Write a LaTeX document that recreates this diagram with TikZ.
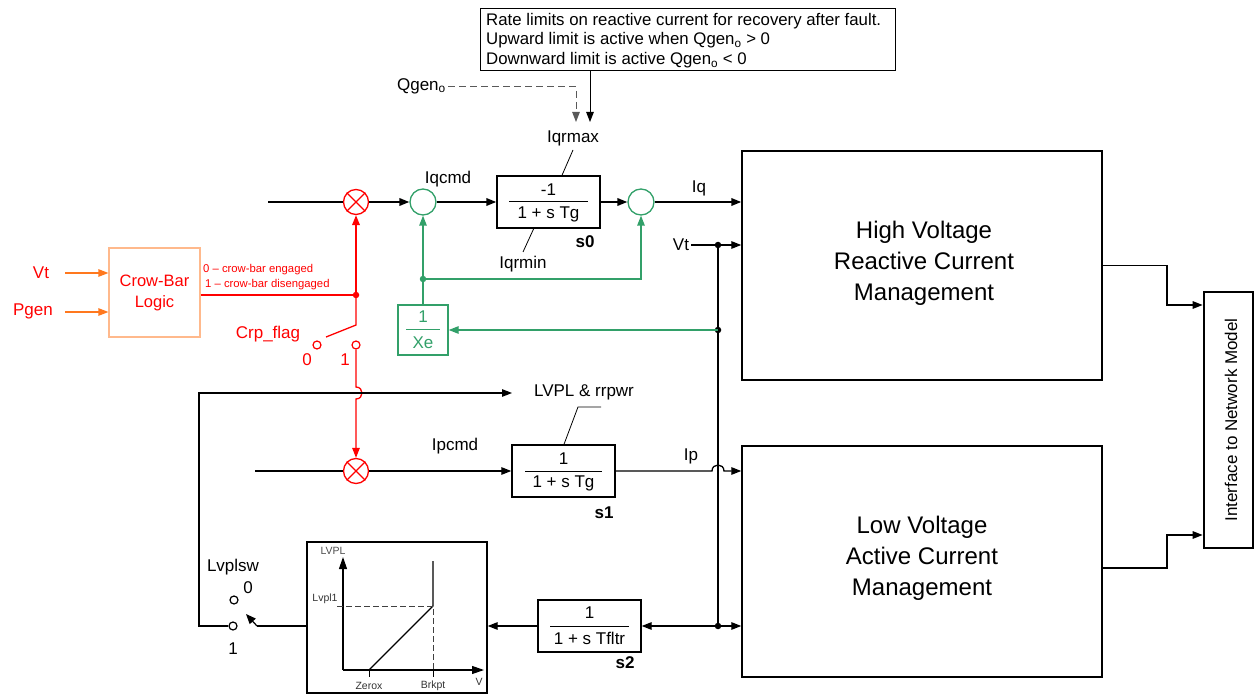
\documentclass[tikz,border=0pt]{standalone}
\usepackage{fontspec}
\setmainfont{Liberation Sans}
\usetikzlibrary{arrows.meta}
\definecolor{cbred}{RGB}{255,0,0}
\definecolor{cborange}{RGB}{255,120,30}
\definecolor{cbbox}{RGB}{255,185,140}
\definecolor{fgreen}{RGB}{50,160,105}
\begin{document}
\begin{tikzpicture}[x=1pt,y=-1pt,
  >={Triangle[length=10pt,width=7.5pt]},
  every node/.style={font=\fontsize{17}{19}\selectfont, inner sep=0pt},
  wire/.style={line width=1.3pt},
  bold wire/.style={line width=1.9pt},
  boxnode/.style={draw, line width=1.4pt},
  dot/.style={circle, fill, minimum size=6.5pt, inner sep=0pt},
  contact/.style={circle, draw, line width=1.2pt, minimum size=8pt, inner sep=0pt},
  small/.style={font=\fontsize{11.3}{13}\selectfont},
  tiny/.style={font=\fontsize{10.5}{12}\selectfont},
  big/.style={font=\fontsize{24}{31}\selectfont, align=center},
  sumg/.style={circle, draw=fgreen, line width=1.3pt, minimum size=26pt},
  mult/.style={circle, draw=cbred, line width=1.3pt, minimum size=25pt},
  bf/.style={font=\bfseries\fontsize{17}{19}\selectfont}
]
\useasboundingbox (0,0) rectangle (1254,695);

% ---------- note box ----------
\node[boxnode, line width=1pt, minimum width=415pt, minimum height=62pt] (note) at (687.5,40) {};
\node[anchor=west, align=left, font=\fontsize{16.8}{19.8}\selectfont] (notetext) at (486,40.5)
  {Rate limits on reactive current for recovery after fault.\\
   Upward limit is active when Qgen\textsubscript{o} > 0\\
   Downward limit is active Qgen\textsubscript{o} < 0};
\node[anchor=east] (qgen) at (446,86) {Qgen\textsubscript{o}};
\coordinate (nbot) at (590,71);
\coordinate (ntip) at (590,122);
\coordinate (qc) at (576,87);
\coordinate (qtip) at (576,122);
\draw[line width=1pt, ->] (nbot) -- (ntip);
\draw[line width=1pt, dash pattern=on 7pt off 4pt, black!65, ->] ([xshift=2pt]qgen.east |- qc) -- (qc) -- (qtip);
\node (iqrmax) at (573,138) {Iqrmax};

% ---------- crow-bar ----------
\node[draw=cbbox, line width=1.2pt, minimum width=91pt, minimum height=89pt, text=cbred,
      align=center, font=\fontsize{16.5}{21}\selectfont] (crow) at (154.5,292.5) {Crow-Bar\\Logic};
\node[text=cbred] (vt1) at (41,273) {Vt};
\node[text=cbred] (pgen) at (33,311) {Pgen};
\coordinate (vtin) at (65,273);
\coordinate (pgin) at (65,312);
\draw[cborange, line width=1.2pt, ->] (vtin) -- (crow.west |- vtin);
\draw[cborange, line width=1.2pt, ->] (pgin) -- (crow.west |- pgin);
\node[small, text=cbred, anchor=west] (eng) at (203,270) {0 – crow-bar engaged};
\node[small, text=cbred, anchor=west] (dis) at (205,285) {1 – crow-bar disengaged};

\coordinate (jn) at (356,295);
\node[mult] (m1) at (356,202) {};
\draw[cbred, line width=1.3pt] (m1.north east) -- (m1.south west) (m1.north west) -- (m1.south east);
\draw[cbred, bold wire] (crow.east |- jn) -- (jn);
\draw[cbred, bold wire, ->] (jn) -- (m1.south);
\node[dot, text=cbred, fill=cbred] (jndot) at (jn) {};
\coordinate (bladetop) at (356,325);
\coordinate (bladeend) at (326,337);
\draw[cbred, wire] (jn) -- (bladetop) -- (bladeend);
\node[contact, draw=cbred] (c0) at (317,345) {};
\node[contact, draw=cbred] (c1) at (356,345) {};
\node[text=cbred] (c0l) at (307,360) {0};
\node[text=cbred] (c1l) at (345,360) {1};
\node[text=cbred] (crp) at (268,334) {Crp\_flag};
\node[mult] (m2) at (356,471) {};
\draw[cbred, line width=1.3pt] (m2.north east) -- (m2.south west) (m2.north west) -- (m2.south east);
\draw[cbred, wire, ->] (c1.south) -- (356,387) .. controls (364,387) and (364,399) .. (356,399) -- (m2.north);

% ---------- reactive path ----------
\node[sumg] (g1) at (423,202) {};
\node[sumg] (g2) at (641,202) {};
\node[boxnode, minimum width=103pt, minimum height=52pt] (s0) at (548.5,202) {};
\node (s0n) at (548.5,190) {-1};
\draw[line width=1pt] (509,202) -- (588,202);
\node (s0d) at (548.5,214) {1 + s Tg};
\node[bf] (s0l) at (585,242) {s0};
\draw[line width=0.8pt] (573,150) -- (s0.north -| 562,0);
\node (iqrmin) at (523,264) {Iqrmin};
\draw[line width=0.8pt] (534,228) -- (523,252);
\coordinate (in1) at (268,202);
\draw[bold wire] (in1) -- (m1.west);
\draw[bold wire, ->] (m1.east) -- (g1.west);
\draw[bold wire, ->] (g1.east) -- (s0.west);
\draw[bold wire, ->] (s0.east) -- (g2.west);
\node (iqcmd) at (448,179) {Iqcmd};
\node (iq) at (699,188) {Iq};

% ---------- big boxes ----------
\node[boxnode, minimum width=360pt, minimum height=229pt] (hv) at (922,265.5) {};
\node[big] (hvt) at (924,263) {High Voltage\\Reactive Current\\Management};
\node[boxnode, minimum width=360pt, minimum height=231pt] (lv) at (922,561.5) {};
\node[big] (lvt) at (922,558) {Low Voltage\\Active Current\\Management};
\node[draw, line width=2.6pt, minimum width=49pt, minimum height=256pt] (iface) at (1228.5,420) {};
\node[rotate=90] (ifacet) at (1231,420) {Interface to Network Model};
\draw[bold wire, ->] (g2.east) -- (hv.west |- g2);
\draw[wire, ->] (hv.east) -- (1167,265.5) |- ([yshift=115pt]iface.west);
\draw[wire, ->] ([yshift=-6.5pt]lv.east) -- (1167,568) |- ([yshift=-115pt]iface.west);

% ---------- Vt distribution ----------
\node (vt2) at (681,245) {Vt};
\coordinate (j1) at (718,245);
\coordinate (j2) at (718,330);
\coordinate (j3) at (718,626);
\draw[wire, ->] ([xshift=2pt]vt2.east) -- (hv.west |- vt2);
\draw[wire] (j1) -- (j3);
\node[dot] (j1d) at (j1) {};
\node[dot] (j2d) at (j2) {};
\node[dot] (j3d) at (j3) {};

% ---------- Xe feedback ----------
\node[draw=fgreen, line width=1.3pt, minimum width=50pt, minimum height=50pt] (xe) at (423,330) {};
\node[text=fgreen] (xen) at (423,317) {1};
\draw[fgreen, line width=1pt] (406,330) -- (440,330);
\node[text=fgreen] (xed) at (423,343) {Xe};
\coordinate (gj) at (423,279);
\draw[fgreen, wire] (xe.north) -- (gj);
\draw[fgreen, wire, ->] (gj) -- (g1.south);
\draw[fgreen, wire, ->] (gj) -- (gj -| g2) -- (g2.south);
\node[dot, fill=fgreen] (gjd) at (gj) {};
\draw[fgreen, wire, ->] (j2) -- (xe.east |- j2);

% ---------- active path ----------
\node[boxnode, minimum width=103pt, minimum height=52pt] (s1) at (563.5,471) {};
\node (s1n) at (563.5,459) {1};
\draw[line width=1pt] (525,471) -- (602,471);
\node (s1d) at (563.5,483) {1 + s Tg};
\node[bf] (s1l) at (604,513) {s1};
\coordinate (in2) at (255,471);
\draw[wire] (in2) -- (m2.west);
\draw[wire, ->] (m2.east) -- (s1.west);
\node (ipcmd) at (455,446) {Ipcmd};
\node (ip) at (691,456) {Ip};
\draw[wire, ->] (s1.east) -- (712,471) .. controls (712,463) and (724,463) .. (724,471) -- (lv.west |- s1);
\node (lvplbl) at (584,392) {LVPL \& rrpwr};
\draw[line width=0.8pt] (601,407) -- (578,407) -- (s1.north -| 564,0);

% ---------- filter / LVPL ----------
\node[boxnode, minimum width=103pt, minimum height=52pt] (s2) at (589.5,626) {};
\node (s2n) at (589.5,613) {1};
\draw[line width=1pt] (550,626) -- (629,626);
\node (s2d) at (589.5,638) {1 + s Tfltr};
\node[bf] (s2l) at (625,663) {s2};
\draw[wire, ->] (j3) -- (s2.east);
\draw[wire, ->] (j3) -- (lv.west |- j3);
\node[boxnode, minimum width=180pt, minimum height=151pt] (lvpl) at (397,617.5) {};
\draw[wire, ->] (s2.west) -- (lvpl.east |- s2);

% graph
\coordinate (org) at (343,670);
\coordinate (ytip) at (343,557);
\coordinate (xtip) at (484,670);
\coordinate (zx) at (369,670);
\coordinate (bk) at (433,670);
\coordinate (bkl) at (433,606);
\coordinate (bkt) at (433,561);
\draw[line width=1.2pt, -{Triangle[length=12pt,width=8pt]}] (org) -- (ytip);
\draw[line width=1.2pt, -{Triangle[length=12pt,width=8pt]}] (org) -- (xtip);
\draw[line width=1.2pt] (zx) -- (bkl) -- (bkt);
\draw[line width=0.9pt, dash pattern=on 6pt off 3pt, black!75] (337,606) -- (bkl) -- (bk);
\draw[line width=1pt] (zx) -- ++(0,7);
\draw[line width=1pt] (bk) -- ++(0,7);
\node[tiny, text=black!70] (lvplax) at (333,551) {LVPL};
\node[tiny, text=black!80] (lvpl1) at (325,599) {Lvpl1};
\node[tiny, text=black!80] (zerox) at (369,686) {Zerox};
\node[tiny, text=black!80] (brkpt) at (433,686) {Brkpt};
\node[tiny, text=black!80] (vax) at (479,682) {V};

% switch Lvplsw
\node[contact] (sw1) at (233,626) {};
\node[contact] (sw0) at (234,600) {};
\node (swl) at (233,567) {Lvplsw};
\node (sw0l) at (248,588) {0};
\node (sw1l) at (233,649) {1};
\coordinate (blade) at (257,626);
\coordinate (bladetip) at (246,614);
\draw[wire] (lvpl.west |- j3) -- (blade);
\draw[line width=1.2pt, -{Triangle[length=10pt,width=8pt]}] (blade) -- (bladetip);
\coordinate (lc1) at (199,626);
\coordinate (lc2) at (199,393);
\coordinate (lvtip) at (512,393);
\draw[wire, ->] (sw1.west) -- (lc1) -- (lc2) -- (lvtip);
\end{tikzpicture}
\end{document}
